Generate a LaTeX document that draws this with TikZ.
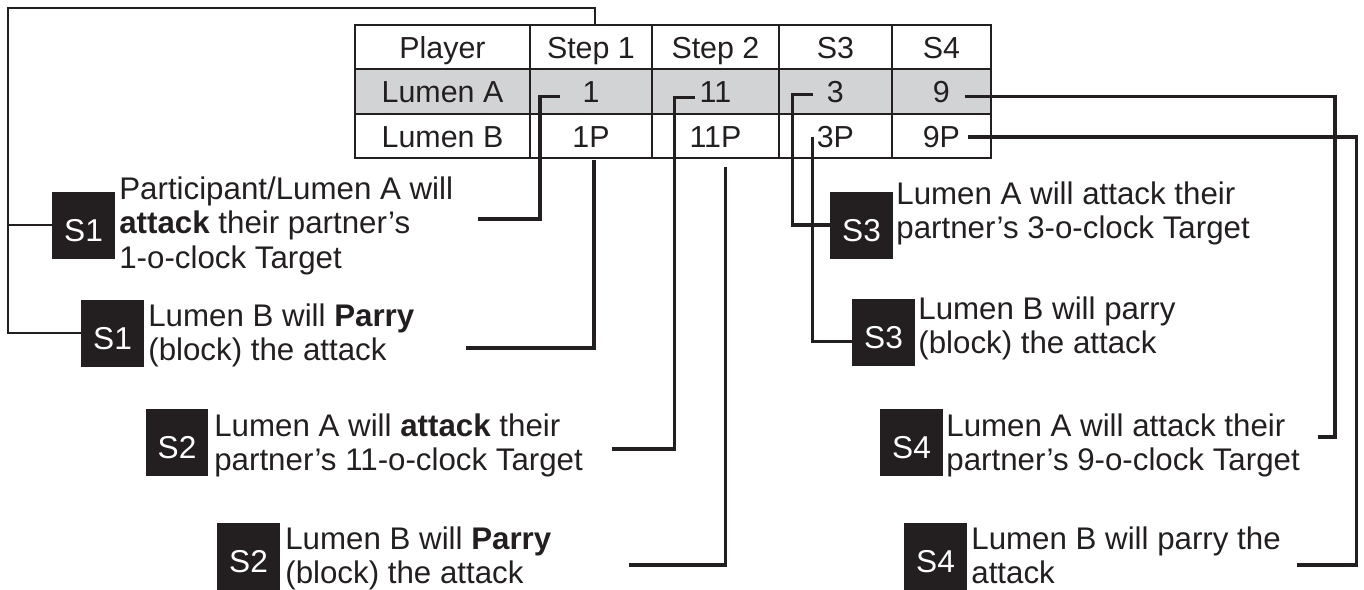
\documentclass[tikz,border=0pt]{standalone}
\usepackage{fontspec}
\setmainfont{Liberation Sans}
\usetikzlibrary{positioning,calc}
\definecolor{ink}{HTML}{231F20}
\definecolor{rowgray}{HTML}{D1D3D4}

\begin{document}
\begin{tikzpicture}[
  x=0.02cm, y=-0.02cm,
  cell/.style={draw=ink,line width=1.1pt,minimum height=0.887cm,inner sep=0pt,outer sep=0pt,
    text=ink,text height=13pt,text depth=0pt,font=\fontsize{17.3}{19.9}\selectfont},
  hilite/.style={cell,fill=rowgray},
  tag/.style={fill=ink,minimum width=1.26cm,minimum height=1.34cm,inner sep=0pt,
    text=white,text height=18.5pt,text depth=0pt,font=\fontsize{18}{20}\selectfont},
  note/.style={anchor=north west,align=left,inner sep=0pt,text=ink,font=\fontsize{17.8}{19.9}\selectfont},
  link/.style={draw=ink,line width=1.9pt},
  tree/.style={draw=ink,line width=1.3pt}
]
\useasboundingbox (0,0) rectangle (1364,589);

% the table
\node[cell,minimum width=3.5cm,anchor=north west] (h0) at (355,25) {Player};
\node[cell,minimum width=2.44cm,right=0pt of h0] (h1) {Step 1};
\node[cell,minimum width=2.54cm,right=0pt of h1] (h2) {Step 2};
\node[cell,minimum width=2.26cm,right=0pt of h2] (h3) {S3};
\node[cell,minimum width=1.98cm,right=0pt of h3] (h4) {S4};

\node[hilite,minimum width=3.5cm,below=0pt of h0] (a0) {Lumen A};
\node[hilite,minimum width=2.44cm,right=0pt of a0] (a1) {1};
\node[hilite,minimum width=2.54cm,right=0pt of a1] (a2) {11};
\node[hilite,minimum width=2.26cm,right=0pt of a2] (a3) {3};
\node[hilite,minimum width=1.98cm,right=0pt of a3] (a4) {9};

\node[cell,minimum width=3.5cm,below=0pt of a0] (b0) {Lumen B};
\node[cell,minimum width=2.44cm,right=0pt of b0] (b1) {1P};
\node[cell,minimum width=2.54cm,right=0pt of b1] (b2) {11P};
\node[cell,minimum width=2.26cm,right=0pt of b2] (b3) {3P};
\node[cell,minimum width=1.98cm,right=0pt of b3] (b4) {9P};

% step tags
\node[tag] (s1a) at (83.5,225) {S1};
\node[tag] (s1b) at (112.5,333) {S1};
\node[tag] (s2a) at (177,442) {S2};
\node[tag] (s2b) at (248.5,556.5) {S2};
\node[tag] (s3a) at (861.5,225) {S3};
\node[tag] (s3b) at (883.5,332.5) {S3};
\node[tag] (s4a) at (911.5,442) {S4};
\node[tag] (s4b) at (935.5,556.5) {S4};

% notes
\node[note] (t1a) at (119,176) {Participant/Lumen A will\\\textbf{attack} their partner’s\\1-o-clock Target};
\node[note] (t1b) at (148,303) {Lumen B will \textbf{Parry}\\(block) the attack};
\node[note] (t2a) at (214,413) {Lumen A will \textbf{attack} their\\partner’s 11-o-clock Target};
\node[note] (t2b) at (285,526) {Lumen B will \textbf{Parry}\\(block) the attack};
\node[note] (t3a) at (896,181) {Lumen A will attack their\\partner’s 3-o-clock Target};
\node[note] (t3b) at (918,296) {Lumen B will parry\\(block) the attack};
\node[note] (t4a) at (946,413) {Lumen A will attack their\\partner’s 9-o-clock Target};
\node[note] (t4b) at (971,526) {Lumen B will parry the\\attack};

% loose ends of the links
\coordinate (corner) at (8,8);
\coordinate (e1) at (478,219);
\coordinate (e2) at (466,348);
\coordinate (e3) at (612,449);
\coordinate (e4) at (629,565);
\coordinate (e7) at (1318,437);
\coordinate (e8) at (1297,565);

\draw[tree] ($(h1.north)+(4,0)$) |- (corner) |- (s1b.west);
\draw[tree] (s1a.west) -- (s1a.west -| corner);

\draw[link] ($(a1.center)+(-31,5)$) -- ++(-20,0) |- (e1);
\draw[link] ($(b1.south)+(3,2)$) |- (e2);
\draw[link] ($(a2.center)+(-20,6)$) -- ++(-21,0) |- (e3);
\draw[link] ($(b2.south)+(10,9)$) |- (e4);
\draw[link] ($(a3.center)+(-22,3)$) -- ++(-21,0) |- (s3a.west);
\draw[link] ($(b3.center)+(-23,1)$) |- ($(s3b.west)+(0,9)$);
\draw[link] ($(a4.center)+(24,5)$) -- ++(369.5,0) |- (e7);
\draw[link] ($(b4.center)+(27,1)$) -- ++(388,0) |- (e8);
\end{tikzpicture}
\end{document}
